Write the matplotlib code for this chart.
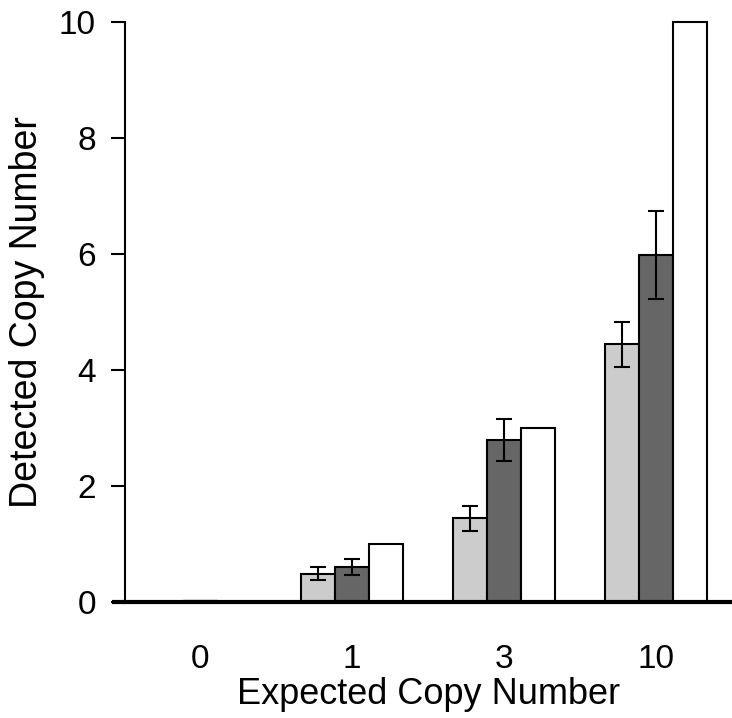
import matplotlib
matplotlib.use("Agg")
import matplotlib.pyplot as plt
import numpy as np

plt.rcParams['font.family'] = ['Liberation Sans', 'DejaVu Sans']

categories = ["0", "1", "3", "10"]
light_vals = [0.0, 0.49, 1.44, 4.44]
light_err = [0.0, 0.11, 0.22, 0.39]
dark_vals = [0.04, 0.61, 2.79, 5.99]
dark_err = [0.0, 0.14, 0.36, 0.76]
white_vals = [0.0, 1.0, 3.0, 10.0]
yticks = [0, 2, 4, 6, 8, 10]

W, H = 732, 718
fig = plt.figure(figsize=(W / 100, H / 100), dpi=100)
ax = fig.add_axes([125 / W, (H - 602) / H, (W - 125) / W, 580 / H])

x = np.arange(len(categories))
bw = 0.223
ekw = dict(elinewidth=1.5, capthick=1.5, ecolor='black')
ax.bar(x - bw, light_vals, bw, color='#cccccc', edgecolor='black', linewidth=1.5,
       yerr=[e if e > 0 else np.nan for e in light_err], capsize=6, error_kw=ekw, clip_on=False, zorder=2)
ax.bar(x, dark_vals, bw, color='#666666', edgecolor='#666666', linewidth=1.0,
       clip_on=False, zorder=2)
ax.bar(x[1:], dark_vals[1:], bw, color='#666666', edgecolor='black', linewidth=1.5,
       yerr=dark_err[1:], capsize=6, error_kw=ekw, clip_on=False, zorder=2)
ax.bar(x + bw, white_vals, bw, color='white', edgecolor='black', linewidth=1.5,
       clip_on=False, zorder=2)

ax.set_xlim(-0.49, 3.5)
ax.set_ylim(0, 10)
ax.set_xticks(x)
ax.set_xticklabels(categories)
ax.set_yticks(yticks)
ax.tick_params(axis='x', length=0, pad=30, labelsize=24)
ax.tick_params(axis='y', length=10, width=1.5, pad=11, labelsize=24, direction='out')

for s in ['top', 'right']:
    ax.spines[s].set_visible(False)
ax.spines['left'].set_linewidth(1.5)
ax.spines['bottom'].set_linewidth(3)
ax.spines['bottom'].set_zorder(3)
ax.plot([-13 / 607, 0], [0, 0], transform=ax.transAxes, color='black', lw=3, clip_on=False, solid_capstyle='butt')

ax.set_xlabel("Expected Copy Number", fontsize=26, labelpad=2)
ax.set_ylabel("Detected Copy Number", fontsize=27, labelpad=10)

fig.savefig("out.png", dpi=100)
